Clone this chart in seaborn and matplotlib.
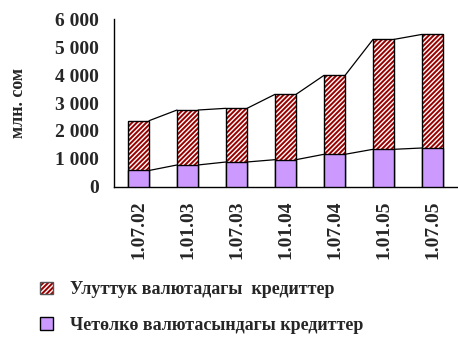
import numpy as np
import pandas as pd
import matplotlib
matplotlib.use("Agg")
import matplotlib.pyplot as plt
import seaborn as sns
from matplotlib.patches import Patch, Rectangle
from matplotlib.ticker import FuncFormatter, MultipleLocator, FixedLocator

# ---- data ----
dates = ["1.07.02", "1.01.03", "1.07.03", "1.01.04", "1.07.04", "1.01.05", "1.07.05"]
national = [1786, 1971, 1925, 2344, 2832, 3943, 4075]
foreign = [580, 778, 885, 968, 1161, 1340, 1387]
label_national = "Улуттук валютадагы  кредиттер"
label_foreign = "Четөлкө валютасындагы кредиттер"
ylabel = "млн. сом"

RED = "#990000"
PURPLE = "#CC99FF"

sns.set_theme(style="white")
plt.rcParams["font.family"] = ["Liberation Serif", "DejaVu Serif"]
plt.rcParams["font.weight"] = "bold"
plt.rcParams["hatch.linewidth"] = 1.0

df = pd.DataFrame({"date": dates, "national": national, "foreign": foreign})
df["total"] = df["national"] + df["foreign"]

fig = plt.figure(figsize=(4.58, 3.40), dpi=100)
ax = fig.add_axes([0.249, 0.451, 0.749, 0.492])

W = 0.43
# total (hatched national on top)
sns.barplot(data=df, x="date", y="total", order=dates, color=RED, saturation=1,
            width=W, edgecolor="white", linewidth=0, hatch="///////", ax=ax)
tot_patches = list(ax.patches)
for p in tot_patches:
    ax.add_patch(Rectangle((p.get_x(), p.get_y()), p.get_width(), p.get_height(),
                           fill=False, edgecolor="black", linewidth=1.0, zorder=3))
# foreign currency (bottom)
n_before = len(ax.patches)
sns.barplot(data=df, x="date", y="foreign", order=dates, color=PURPLE, saturation=1,
            width=W, edgecolor="black", linewidth=1.0, ax=ax)
for p in ax.patches[n_before:]:
    p.set_zorder(4)

# series lines
xs = [p.get_x() for p in tot_patches]
ws = [p.get_width() for p in tot_patches]
for level in (df["total"].values, df["foreign"].values):
    for i in range(len(dates) - 1):
        ax.plot([xs[i] + ws[i], xs[i + 1]], [level[i], level[i + 1]],
                color="black", linewidth=0.9, zorder=5)

# axes styling
ax.set_xlim(-0.5, len(dates) - 0.5)
ax.set_ylim(0, 6000)
ax.yaxis.set_major_locator(MultipleLocator(1000))
ax.yaxis.set_major_formatter(FuncFormatter(lambda v, pos: f"{int(v):,}".replace(",", " ")))
ax.set_xlabel("")
ax.set_ylabel(ylabel, fontsize=13, fontweight="bold")
ax.yaxis.set_label_coords(-0.255, 0.5)
ax.xaxis.set_minor_locator(FixedLocator(np.arange(-0.5, len(dates), 1.0)))
ax.tick_params(axis="x", which="major", length=0, pad=10, labelsize=14, rotation=90)
ax.tick_params(axis="x", which="minor", length=5, width=1, color="black", direction="out")
ax.tick_params(axis="y", length=6, width=1, color="black", direction="out", pad=5, labelsize=14)
for lab in ax.get_xticklabels() + ax.get_yticklabels():
    lab.set_fontweight("bold")
for s in ("top", "right"):
    ax.spines[s].set_visible(False)
for s in ("left", "bottom"):
    ax.spines[s].set_color("black")
    ax.spines[s].set_linewidth(1.0)

# legend
h_nat = (Patch(facecolor=RED, edgecolor="white", linewidth=0, hatch="///////"),
         Patch(facecolor="none", edgecolor="#555555", linewidth=1))
h_for = Patch(facecolor=PURPLE, edgecolor="black", linewidth=1)
fig.legend([h_nat, h_for], [label_national, label_foreign],
           loc="upper left", bbox_to_anchor=(0.052, 0.22), frameon=False,
           prop={"family": ["Liberation Serif"], "weight": "bold", "size": 13},
           handlelength=0.7, handleheight=0.7, handletextpad=0.95, labelspacing=1.0)

fig.savefig("out.png", dpi=100)
